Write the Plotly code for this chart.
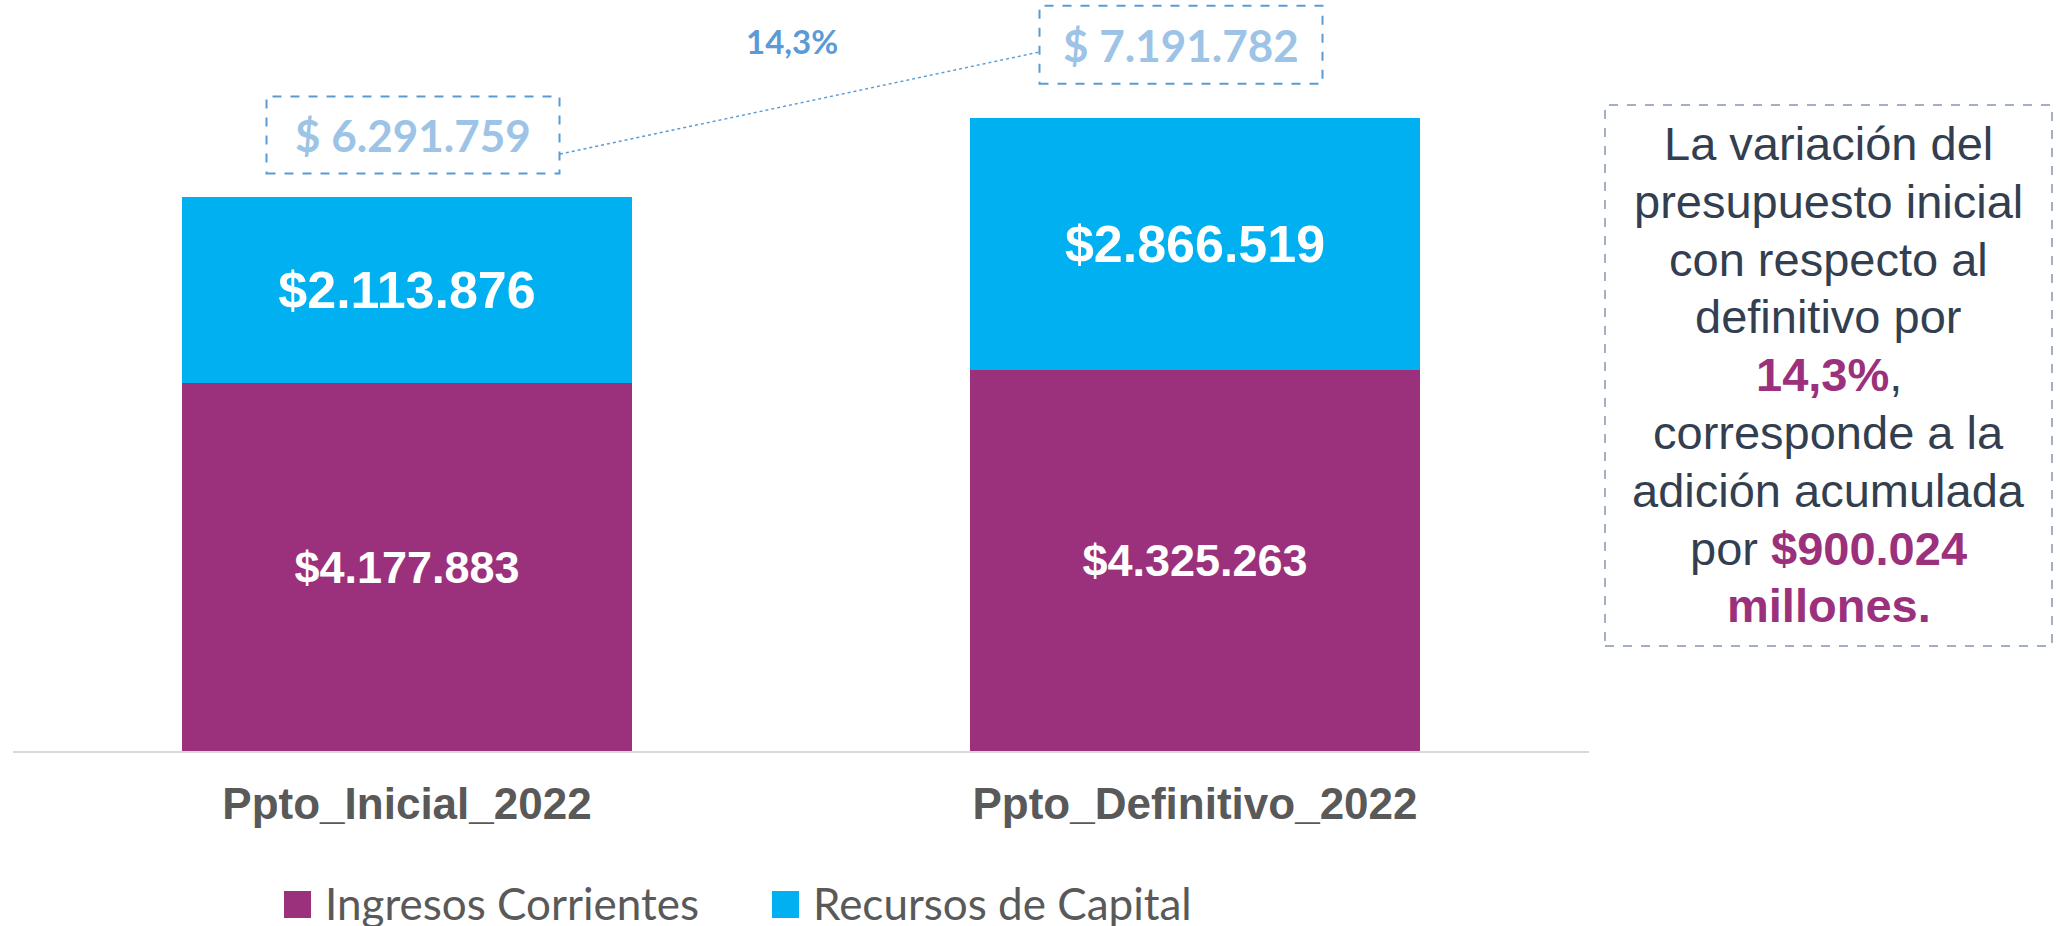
import plotly.graph_objects as go

# ---------------- data ----------------
categories = ["Ppto_Inicial_2022", "Ppto_Definitivo_2022"]
ingresos_corrientes = [4177883, 4325263]
recursos_capital = [2113876, 2866519]
series_names = ["Ingresos Corrientes", "Recursos de Capital"]
series_colors = ["#9B317C", "#00B0F0"]

note_lines = [
    "La variación del",
    "presupuesto inicial",
    "con respecto al",
    "definitivo por",
    "<b><span style='color:#9B317C'>14,3%</span></b>,",
    "corresponde a la",
    "adición acumulada",
    "por <b><span style='color:#9B317C'>$900.024</span></b>",
    "<b><span style='color:#9B317C'>millones.</span></b>",
]

totals = [a + b for a, b in zip(ingresos_corrientes, recursos_capital)]
variacion = totals[1] / totals[0] - 1


def fmt(v):
    return f"{v:,.0f}".replace(",", ".")


def pct(v):
    return f"{v * 100:.1f}".replace(".", ",") + "%"


# ---------------- layout constants ----------------
W, H = 2060, 926
ML, MR, MT, MB = 13, 471, 0, 175
PW = W - ML - MR
PH = H - MT - MB
YMAX = PH / 8.8035e-5


def px_x(px):
    return (px - ML) / PW


def px_y(py):
    return (H - MB - py) / PH


fig = go.Figure()
for vals, name, color, size in [
    (ingresos_corrientes, series_names[0], series_colors[0], 45),
    (recursos_capital, series_names[1], series_colors[1], 52),
]:
    fig.add_bar(
        x=categories,
        y=vals,
        name=name,
        marker=dict(color=color, line=dict(width=0)),
        text=["$" + fmt(v) for v in vals],
        textposition="inside",
        insidetextanchor="middle",
        textangle=0,
        textfont=dict(family="Liberation Sans", size=size, color="white", weight="bold"),
        showlegend=False,
    )

shapes = []
annotations = []

# total boxes
box_w = [293, 283]
box_h = [77, 78]
box_dx = [6, -14]
box_dy = [62, 73]
for i, t in enumerate(totals):
    shapes.append(dict(
        type="rect", xref="x", yref="y",
        xsizemode="pixel", xanchor=i, x0=box_dx[i] - box_w[i] / 2, x1=box_dx[i] + box_w[i] / 2,
        ysizemode="pixel", yanchor=t, y0=box_dy[i] - box_h[i] / 2, y1=box_dy[i] + box_h[i] / 2,
        line=dict(color="#5B9BD5", width=2, dash="dash"),
        fillcolor="rgba(0,0,0,0)",
    ))
    annotations.append(dict(
        x=i, y=t, xref="x", yref="y", xshift=box_dx[i], yshift=box_dy[i],
        text="$ " + fmt(t), showarrow=False, xanchor="center", yanchor="middle",
        font=dict(family="Lato", size=44, color="#9DC3E6", weight="bold"),
    ))

# connector line
shapes.append(dict(
    type="line", xref="x", yref="y",
    xsizemode="pixel", xanchor=0, x0=153, x1=632,
    ysizemode="pixel", yanchor=totals[0], y0=43, y1=145,
    line=dict(color="#5B9BD5", width=1.5, dash="dot"),
))
annotations.append(dict(
    x=0, y=totals[0], xref="x", yref="y", xshift=385, yshift=156,
    text=pct(variacion), showarrow=False, xanchor="center", yanchor="middle",
    font=dict(family="Lato", size=33, color="#5B9BD5", weight="bold"),
))

# right note box
shapes.append(dict(
    type="rect", xref="paper", yref="paper",
    x0=px_x(1605), x1=px_x(2052), y0=px_y(646), y1=px_y(105),
    line=dict(color="#8497B0", width=1.5, dash="dash"),
    fillcolor="rgba(0,0,0,0)",
))
for i, line in enumerate(note_lines):
    annotations.append(dict(
        x=px_x(1828.5), y=px_y(143.5 + i * 57.8), xref="paper", yref="paper",
        text=line, showarrow=False, xanchor="center", yanchor="middle",
        font=dict(family="Liberation Sans", size=47, color="#333F50"),
    ))

# manual legend
leg_sq_x = [284, 772]
leg_tx_x = [323, 811]
for i in range(2):
    shapes.append(dict(
        type="rect", xref="paper", yref="paper",
        x0=px_x(leg_sq_x[i]), x1=px_x(leg_sq_x[i] + 27), y0=px_y(918), y1=px_y(891),
        fillcolor=series_colors[i], line=dict(width=0),
    ))
    annotations.append(dict(
        x=px_x(leg_tx_x[i]), y=px_y(903), xref="paper", yref="paper",
        text=series_names[i], showarrow=False, xanchor="left", yanchor="middle",
        font=dict(family="Lato", size=44, color="#595959"),
    ))

fig.update_layout(
    width=W, height=H,
    margin=dict(l=ML, r=MR, t=MT, b=MB, pad=0),
    paper_bgcolor="white", plot_bgcolor="white",
    barmode="stack", bargap=0.429,
    shapes=shapes, annotations=annotations,
    xaxis=dict(
        type="category", range=[-0.5, 1.5],
        showline=True, linecolor="#D9D9D9", linewidth=2,
        ticks="", showgrid=False, zeroline=False,
        tickfont=dict(family="Liberation Sans", size=44, color="#595959", weight="bold"),
        ticklabelstandoff=13,
    ),
    yaxis=dict(visible=False, range=[0, YMAX], showgrid=False, zeroline=False),
    showlegend=False,
)

fig.write_html(
    "out.html",
    config={"displayModeBar": False},
    post_script="document.body.style.margin='0px'; document.body.style.overflow='hidden';",
)
